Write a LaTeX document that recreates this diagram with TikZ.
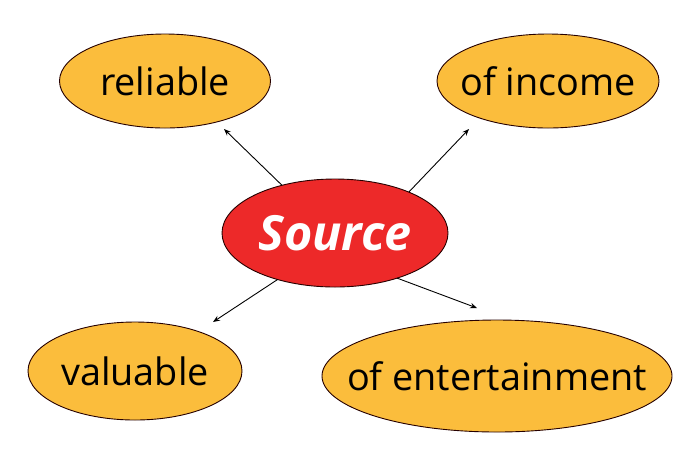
\documentclass[tikz,border=0pt]{standalone}
\usepackage{fontspec}
\setmainfont{Open Sans}
\usetikzlibrary{shapes.geometric,arrows.meta}
\definecolor{bubbley}{RGB}{251,189,60}
\definecolor{bubbler}{RGB}{237,41,41}
\newcommand{\zlbl}[1]{\makebox[0pt]{#1}}
\tikzset{
  bubble/.style={ellipse, draw=black!85!red, line width=0.9pt, fill=bubbley, inner sep=0pt, outer sep=0pt,
    font=\fontsize{37.8}{40}\selectfont, text=black},
  srcbubble/.style={ellipse, draw=black!85!red, line width=0.9pt, fill=bubbler, inner sep=0pt, outer sep=0pt,
    font=\fontsize{48.5}{50}\selectfont\bfseries\itshape, text=white},
  conn/.style={line width=0.9pt, -{Stealth[length=7pt,width=5.5pt,inset=2.5pt]}}
}
\begin{document}
\begin{tikzpicture}[x=1pt,y=-1pt]
\useasboundingbox (0,0) rectangle (700,467);
\node[bubble, minimum width=211pt, minimum height=94pt] (rel) at (165,81) {\zlbl{reliable}};
\node[bubble, minimum width=222pt, minimum height=94pt] (inc) at (548,81) {\zlbl{of income}};
\node[bubble, minimum width=214pt, minimum height=98pt] (val) at (135,371) {\zlbl{valuable}};
\node[bubble, minimum width=350pt, minimum height=112pt] (ent) at (497,376) {\zlbl{of entertainment}};
\node[srcbubble, minimum width=226pt, minimum height=108pt] (src) at (335,233) {\zlbl{Source}};
\coordinate (tA) at (224,129);
\coordinate (tB) at (469,129);
\coordinate (tC) at (213,322);
\coordinate (tD) at (477,308);
\draw[conn] (src.138.9) -- (tA);
\draw[conn] (src.29) -- (tB);
\draw[conn] (src.219.6) -- (tC);
\draw[conn] (src.324.3) -- (tD);
\end{tikzpicture}
\end{document}
